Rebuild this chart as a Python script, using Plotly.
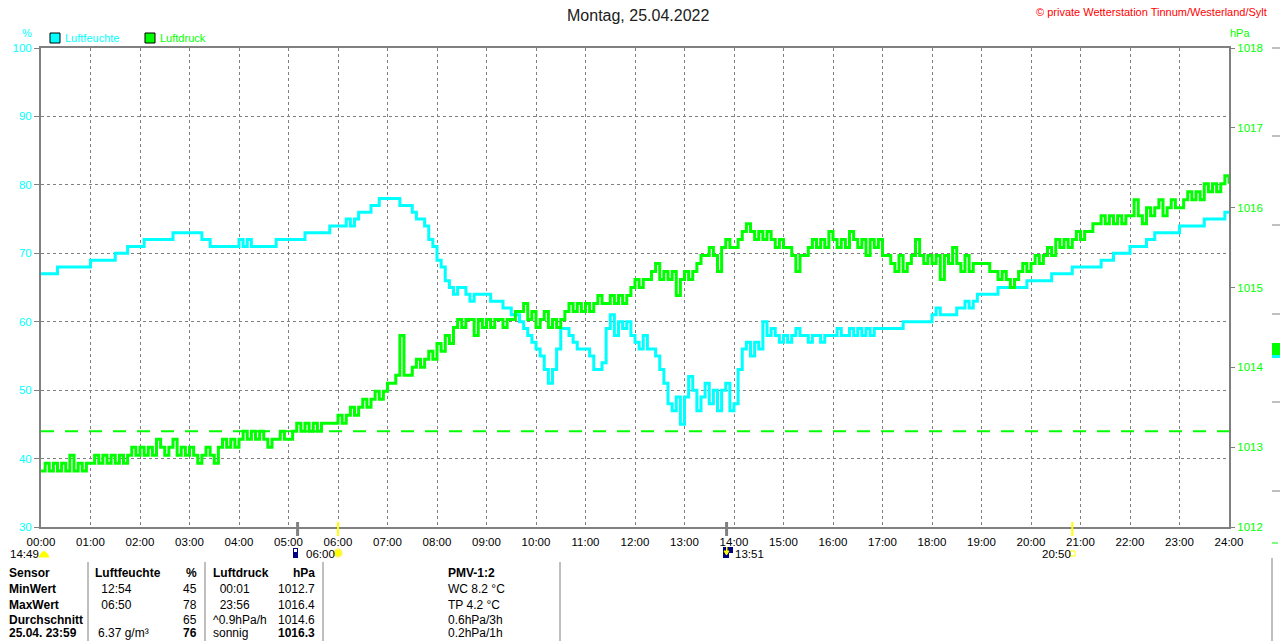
import plotly.graph_objects as go

# ---- data (5-minute steps from 00:00 to 24:00) ----
hour_labels = [f"{h:02d}:00" for h in range(25)]

humidity = [
    67, 67, 67, 67, 68, 68, 68, 68, 68, 68, 68, 68,   # 00
    69, 69, 69, 69, 69, 69, 70, 70, 70, 71, 71, 71,   # 01
    71, 72, 72, 72, 72, 72, 72, 72, 73, 73, 73, 73,   # 02
    73, 73, 73, 72, 72, 71, 71, 71, 71, 71, 71, 71,   # 03
    72, 71, 72, 71, 71, 71, 71, 71, 71, 72, 72, 72,   # 04
    72, 72, 72, 72, 73, 73, 73, 73, 73, 73, 74, 74,   # 05
    74, 74, 75, 74, 75, 76, 76, 76, 77, 77, 78, 78,   # 06
    78, 78, 78, 77, 77, 77, 76, 75, 75, 74, 72, 71,   # 07
    69, 68, 66, 65, 64, 65, 65, 64, 63, 64, 64, 64,   # 08
    64, 63, 63, 63, 62, 62, 61, 61, 60, 59, 58, 57,   # 09
    56, 55, 53, 51, 53, 56, 59, 59, 58, 57, 56, 56,   # 10
    56, 55, 53, 53, 54, 59, 61, 58, 60, 59, 60, 58,   # 11
    57, 56, 58, 56, 56, 55, 53, 51, 48, 47, 49, 45,   # 12
    49, 52, 50, 47, 49, 51, 48, 50, 47, 50, 51, 47,   # 13
    48, 53, 56, 57, 55, 57, 56, 60, 58, 59, 58, 57,   # 14
    58, 57, 58, 59, 58, 58, 57, 58, 58, 57, 58, 58,   # 15
    58, 59, 58, 58, 59, 58, 59, 58, 59, 58, 59, 59,   # 16
    59, 59, 59, 59, 59, 60, 60, 60, 60, 60, 60, 60,   # 17
    61, 62, 61, 61, 61, 61, 62, 62, 63, 62, 63, 64,   # 18
    64, 64, 64, 64, 65, 65, 65, 65, 65, 65, 65, 66,   # 19
    66, 66, 66, 66, 66, 67, 67, 67, 67, 67, 68, 68,   # 20
    68, 68, 68, 68, 68, 69, 69, 69, 70, 70, 70, 70,   # 21
    71, 71, 71, 71, 72, 72, 73, 73, 73, 73, 73, 73,   # 22
    74, 74, 74, 74, 74, 74, 75, 75, 75, 75, 75, 76,   # 23
    76,
]

pressure = [
    1012.7, 1012.8, 1012.7, 1012.8, 1012.7, 1012.8, 1012.7, 1012.9, 1012.7, 1012.8, 1012.7, 1012.8,  # 00
    1012.8, 1012.9, 1012.8, 1012.9, 1012.8, 1012.9, 1012.8, 1012.9, 1012.8, 1012.9, 1013.0, 1012.9,  # 01
    1013.0, 1012.9, 1013.0, 1012.9, 1013.1, 1013.0, 1012.9, 1013.0, 1013.1, 1012.9, 1013.0, 1012.9,  # 02
    1013.0, 1012.9, 1012.8, 1012.9, 1013.0, 1012.9, 1012.8, 1013.0, 1013.1, 1013.0, 1013.1, 1013.0,  # 03
    1013.1, 1013.2, 1013.1, 1013.2, 1013.1, 1013.2, 1013.1, 1013.0, 1013.1, 1013.1, 1013.2, 1013.1,  # 04
    1013.1, 1013.2, 1013.3, 1013.2, 1013.3, 1013.2, 1013.3, 1013.2, 1013.3, 1013.3, 1013.3, 1013.3,  # 05
    1013.4, 1013.3, 1013.4, 1013.5, 1013.4, 1013.5, 1013.6, 1013.5, 1013.6, 1013.7, 1013.6, 1013.7,  # 06
    1013.8, 1013.8, 1013.9, 1014.4, 1013.9, 1013.9, 1014.0, 1014.1, 1014.0, 1014.1, 1014.2, 1014.1,  # 07
    1014.3, 1014.2, 1014.4, 1014.3, 1014.5, 1014.6, 1014.5, 1014.6, 1014.6, 1014.4, 1014.6, 1014.5,  # 08
    1014.6, 1014.5, 1014.6, 1014.6, 1014.5, 1014.6, 1014.6, 1014.7, 1014.7, 1014.8, 1014.6, 1014.7,  # 09
    1014.5, 1014.6, 1014.7, 1014.5, 1014.6, 1014.5, 1014.6, 1014.7, 1014.8, 1014.7, 1014.8, 1014.7,  # 10
    1014.8, 1014.7, 1014.8, 1014.9, 1014.8, 1014.8, 1014.9, 1014.8, 1014.9, 1014.8, 1014.9, 1015.0,  # 11
    1015.1, 1015.0, 1015.1, 1015.1, 1015.2, 1015.3, 1015.1, 1015.2, 1015.1, 1015.2, 1014.9, 1015.1,  # 12
    1015.2, 1015.1, 1015.2, 1015.3, 1015.4, 1015.4, 1015.5, 1015.4, 1015.2, 1015.5, 1015.6, 1015.5,  # 13
    1015.5, 1015.6, 1015.7, 1015.8, 1015.7, 1015.6, 1015.7, 1015.6, 1015.7, 1015.6, 1015.5, 1015.6,  # 14
    1015.5, 1015.5, 1015.4, 1015.2, 1015.4, 1015.4, 1015.5, 1015.6, 1015.5, 1015.6, 1015.5, 1015.7,  # 15
    1015.6, 1015.5, 1015.6, 1015.5, 1015.7, 1015.6, 1015.5, 1015.6, 1015.4, 1015.6, 1015.5, 1015.6,  # 16
    1015.4, 1015.4, 1015.3, 1015.2, 1015.4, 1015.2, 1015.3, 1015.4, 1015.6, 1015.4, 1015.3, 1015.4,  # 17
    1015.3, 1015.4, 1015.1, 1015.4, 1015.3, 1015.5, 1015.3, 1015.2, 1015.4, 1015.2, 1015.3, 1015.3,  # 18
    1015.3, 1015.3, 1015.2, 1015.2, 1015.1, 1015.2, 1015.1, 1015.0, 1015.1, 1015.2, 1015.3, 1015.2,  # 19
    1015.3, 1015.4, 1015.3, 1015.4, 1015.5, 1015.4, 1015.6, 1015.5, 1015.6, 1015.5, 1015.6, 1015.7,  # 20
    1015.6, 1015.7, 1015.7, 1015.8, 1015.8, 1015.9, 1015.8, 1015.9, 1015.8, 1015.9, 1015.8, 1015.9,  # 21
    1015.9, 1016.1, 1015.9, 1015.8, 1016.0, 1015.9, 1016.0, 1016.1, 1015.9, 1016.0, 1016.1, 1016.0,  # 22
    1016.0, 1016.1, 1016.2, 1016.1, 1016.2, 1016.1, 1016.3, 1016.2, 1016.3, 1016.2, 1016.3, 1016.4,  # 23
    1016.3,
]

times = [i * 5 / 60 for i in range(len(humidity))]

ref_pressure = 1013.2          # dashed green reference line
sun_events = [6.0, 20 + 50 / 60]
moon_events = [5 + 11 / 60, 13 + 51 / 60]

# summary table
table_header = ["Sensor", "Luftfeuchte", "%", "Luftdruck", "hPa", "PMV-1:2"]
row_labels = ["MinWert", "MaxWert", "Durchschnitt", "25.04. 23:59"]
hum_info = ["\u00a012:54", "\u00a006:50", "", "6.37 g/m³"]
hum_vals = ["45", "78", "65", "<b>76</b>"]
press_info = ["\u00a0\u00a000:01", "\u00a0\u00a023:56", "^0.9hPa/h", "sonnig"]
press_vals = ["1012.7", "1016.4", "1014.6", "<b>1016.3</b>"]
pmv_info = ["WC 8.2 °C", "TP 4.2 °C", "0.6hPa/3h", "0.2hPa/1h"]

CYAN = "#00FFFF"
GREEN = "#00FF00"
GRAY = "#808080"
FONT = "Liberation Sans, Arial, sans-serif"

W, H = 1280, 641
L, R, T, B = 41, 1229, 48, 527


def fx(px):
    return (px - L) / (R - L)


def fy(py):
    return (B - py) / (B - T)


fig = go.Figure()

fig.add_trace(go.Scatter(
    x=times, y=humidity, mode="lines", yaxis="y",
    line=dict(color=CYAN, width=3, shape="hv"),
    showlegend=False, hoverinfo="skip",
))
fig.add_trace(go.Scatter(
    x=times, y=pressure, mode="lines", yaxis="y2",
    line=dict(color=GREEN, width=3, shape="hv"),
    showlegend=False, hoverinfo="skip",
))

fig.update_layout(
    width=W, height=H,
    margin=dict(l=L, r=W - R, t=T, b=H - B, pad=0),
    paper_bgcolor="white", plot_bgcolor="white",
    font=dict(family=FONT, size=11, color="black"),
    hovermode=False,
    xaxis=dict(
        range=[0, 24], tickvals=list(range(25)), ticktext=hour_labels,
        showgrid=True, gridcolor=GRAY, gridwidth=1, griddash="3px,3px",
        showline=True, linecolor=GRAY, linewidth=2, mirror=True,
        zeroline=False, ticks="outside", ticklen=3, tickcolor="rgba(0,0,0,0)",
        tickfont=dict(size=11.5, color="black"), fixedrange=True,
    ),
    yaxis=dict(
        range=[30, 100], tick0=30, dtick=10,
        showgrid=True, gridcolor=GRAY, gridwidth=1, griddash="3px,3px",
        showline=True, linecolor=GRAY, linewidth=2, mirror=True,
        zeroline=False, ticks="outside", ticklen=5, tickcolor=GRAY,
        tickfont=dict(size=11.5, color=CYAN),
    ),
    yaxis2=dict(
        overlaying="y", side="right", range=[1012, 1018], dtick=1,
        showgrid=False, showline=False, zeroline=False,
        ticks="outside", ticklen=5, tickcolor=GRAY,
        tickfont=dict(size=11.5, color=GREEN),
    ),
)

shapes = []
ann = []

# reference line
shapes.append(dict(type="line", xref="paper", x0=0, x1=1, yref="y2",
                   y0=ref_pressure, y1=ref_pressure, layer="between",
                   line=dict(color=GREEN, width=2, dash="13px,11px")))

# sun / moon ticks on the time axis
for t in sun_events:
    shapes.append(dict(type="line", xref="x", x0=t, x1=t, yref="paper",
                       y0=fy(536), y1=fy(522), line=dict(color="#FFFF00", width=2)))
for t in moon_events:
    shapes.append(dict(type="line", xref="x", x0=t, x1=t, yref="paper",
                       y0=fy(536), y1=fy(522), line=dict(color=GRAY, width=3)))


def box(x0, y0, x1, y1, fill, line=None, lw=0):
    shapes.append(dict(type="rect", xref="paper", yref="paper",
                       x0=fx(x0), x1=fx(x1), y0=fy(y1), y1=fy(y0),
                       fillcolor=fill, line=dict(color=line or fill, width=lw)))


def text(px, py, s, color="black", size=11.5, xa="left", ya="middle"):
    ann.append(dict(xref="paper", yref="paper", x=fx(px), y=fy(py), text=s,
                    showarrow=False, xanchor=xa, yanchor=ya, borderpad=0,
                    font=dict(family=FONT, size=size, color=color)))


# legend
box(50, 33, 60, 43, CYAN, "black", 1)
text(64, 38, "Luftfeuchte", CYAN, 11)
box(145, 33, 155, 43, GREEN, "black", 1)
text(159, 38, "Luftdruck", GREEN, 11)

# titles and unit labels
text(638, 15, "Montag, 25.04.2022", "#202020", 16, "center")
text(1268, 12, "© private Wetterstation Tinnum/Westerland/Sylt", "#FF0000", 11, "right")
text(27, 33, "%", CYAN, 11, "center")
text(1240, 33, "hPa", GREEN, 11, "center")

# sun / moon time markers below the axis
text(9, 554, "14:49")
shapes.append(dict(type="path", xref="paper", yref="paper",
                   path=f"M {fx(39)},{fy(557)} Q {fx(44)},{fy(546)} {fx(49)},{fy(557)} Z",
                   fillcolor="#FFFF00", line=dict(color="#FFFF00", width=1)))
box(293, 548, 298, 558, "#000080")
box(294, 549, 297, 552, "white")
text(305, 554, "06:00")
shapes.append(dict(type="circle", xref="paper", yref="paper",
                   x0=fx(334), x1=fx(342), y0=fy(557), y1=fy(549),
                   fillcolor="#FFFF00", line=dict(color="#FFF080", width=1.5)))
box(723, 547, 733, 558, "#000080")
box(729, 553, 733, 558, "white")
shapes.append(dict(type="path", xref="paper", yref="paper",
                   path=f"M {fx(724)},{fy(551)} L {fx(729)},{fy(551)} L {fx(726.5)},{fy(555)} Z",
                   fillcolor="#FFFF00", line=dict(color="#FFFF00", width=1)))
box(726, 547, 727.5, 551, "#FFFF00")
text(734, 554, "13:51")
text(1041, 554, "20:50")
box(1070, 551, 1075, 556, "rgba(0,0,0,0)", "#FFFF00", 1)

# summary table
for xs in [88, 205, 323, 560]:
    shapes.append(dict(type="line", xref="paper", yref="paper",
                       x0=fx(xs), x1=fx(xs), y0=fy(562), y1=fy(645),
                       line=dict(color=GRAY, width=1)))

row_y = [573, 589, 605, 620, 633]
text(8, row_y[0], "<b>" + table_header[0] + "</b>", size=12)
text(94, row_y[0], "<b>" + table_header[1] + "</b>", size=12)
text(198, row_y[0], "<b>" + table_header[2] + "</b>", size=12, xa="right")
text(212, row_y[0], "<b>" + table_header[3] + "</b>", size=12)
text(316, row_y[0], "<b>" + table_header[4] + "</b>", size=12, xa="right")
text(447, row_y[0], "<b>" + table_header[5] + "</b>", size=12)
for i, lab in enumerate(row_labels):
    y = row_y[i + 1]
    text(8, y, "<b>" + lab + "</b>", size=12)
    text(97, y, hum_info[i], size=12)
    text(198, y, hum_vals[i], size=12, xa="right")
    text(212, y, press_info[i], size=12)
    text(316, y, press_vals[i], size=12, xa="right")
    text(447, y, pmv_info[i], size=12)

# cut-off neighbouring panel at the right edge
for yy in [48, 136, 225, 314, 402, 491]:
    shapes.append(dict(type="line", xref="paper", yref="paper",
                       x0=fx(1272), x1=fx(1280), y0=fy(yy), y1=fy(yy),
                       line=dict(color=GRAY, width=1)))
box(1272, 343, 1280, 356, GREEN)
box(1272, 355, 1280, 358, CYAN)
shapes.append(dict(type="line", xref="paper", yref="paper",
                   x0=fx(1272), x1=fx(1278), y0=fy(543), y1=fy(543),
                   line=dict(color=GREEN, width=1)))
shapes.append(dict(type="line", xref="paper", yref="paper",
                   x0=fx(1272), x1=fx(1272), y0=fy(558), y1=fy(645),
                   line=dict(color=GRAY, width=1)))

fig.update_layout(shapes=shapes, annotations=ann)

fig.write_html("out.html", config={"displayModeBar": False},
               post_script="document.body.style.margin='0';")
